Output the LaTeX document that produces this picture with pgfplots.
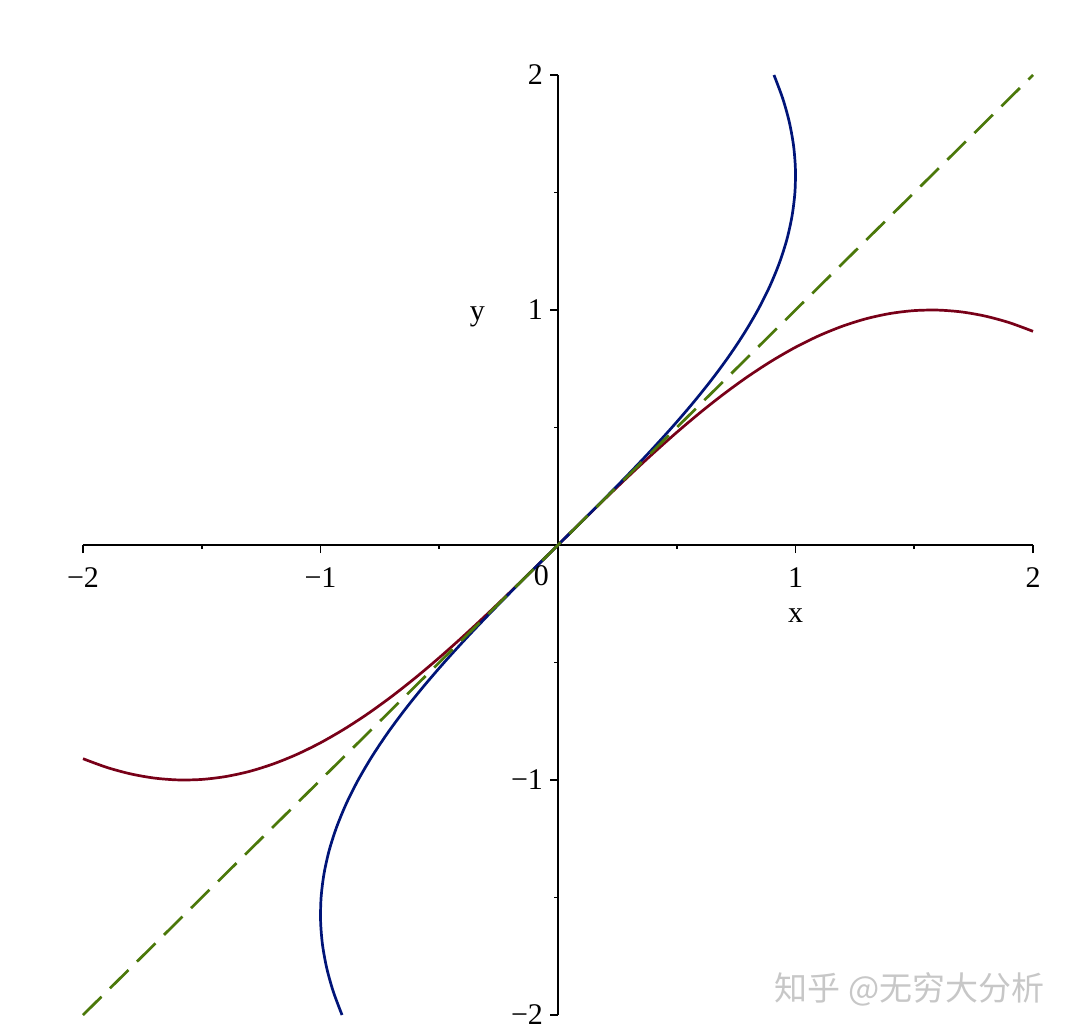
\documentclass[border=0pt]{standalone}
\usepackage{pgfplots}
\pgfplotsset{compat=1.18}
\usepackage{fontspec}
\setmainfont{Liberation Serif}
\newfontfamily\cjk{Noto Sans CJK SC}
\definecolor{mred}{RGB}{120,0,24}
\definecolor{mblue}{RGB}{0,20,120}
\definecolor{mgreen}{RGB}{75,120,10}
\begin{document}
\begin{tikzpicture}
\useasboundingbox (-41.5pt,-10pt) rectangle (495.5pt,507.5pt);
\begin{axis}[
  at={(0,0)}, anchor=south west,
  scale only axis, width=475pt, height=470pt,
  xmin=-2, xmax=2, ymin=-2, ymax=2,
  axis lines=middle,
  axis line style={-, line width=1pt, black},
  tick align=outside,
  major tick length=4pt, minor tick length=2pt,
  tick style={line width=0.9pt, black},
  xtick={-2,-1,1,2}, xticklabels={−2,−1,1,2},
  ytick={-2,-1,1,2}, yticklabels={−2,−1,1,2},
  minor xtick={-1.5,-0.5,0.5,1.5},
  minor ytick={-1.5,-0.5,0.5,1.5},
  every tick label/.append style={font=\fontsize{15}{17}\selectfont},
  xticklabel style={yshift=-4pt},
  clip=false,
]
\addplot[mred, line width=1.35pt, smooth] coordinates {
(-2.0,-0.9093) (-1.9,-0.9463) (-1.8,-0.9738) (-1.7,-0.9917) (-1.6,-0.9996)
(-1.5,-0.9975) (-1.4,-0.9854) (-1.3,-0.9636) (-1.2,-0.9320) (-1.1,-0.8912)
(-1.0,-0.8415) (-0.9,-0.7833) (-0.8,-0.7174) (-0.7,-0.6442) (-0.6,-0.5646)
(-0.5,-0.4794) (-0.4,-0.3894) (-0.3,-0.2955) (-0.2,-0.1987) (-0.1,-0.0998)
(0,0)
(0.1,0.0998) (0.2,0.1987) (0.3,0.2955) (0.4,0.3894) (0.5,0.4794)
(0.6,0.5646) (0.7,0.6442) (0.8,0.7174) (0.9,0.7833) (1.0,0.8415)
(1.1,0.8912) (1.2,0.9320) (1.3,0.9636) (1.4,0.9854) (1.5,0.9975)
(1.6,0.9996) (1.7,0.9917) (1.8,0.9738) (1.9,0.9463) (2.0,0.9093)
};
\addplot[mblue, line width=1.35pt, smooth] coordinates {
(-0.9093,-2.0) (-0.9463,-1.9) (-0.9738,-1.8) (-0.9917,-1.7) (-0.9996,-1.6)
(-0.9975,-1.5) (-0.9854,-1.4) (-0.9636,-1.3) (-0.9320,-1.2) (-0.8912,-1.1)
(-0.8415,-1.0) (-0.7833,-0.9) (-0.7174,-0.8) (-0.6442,-0.7) (-0.5646,-0.6)
(-0.4794,-0.5) (-0.3894,-0.4) (-0.2955,-0.3) (-0.1987,-0.2) (-0.0998,-0.1)
(0,0)
(0.0998,0.1) (0.1987,0.2) (0.2955,0.3) (0.3894,0.4) (0.4794,0.5)
(0.5646,0.6) (0.6442,0.7) (0.7174,0.8) (0.7833,0.9) (0.8415,1.0)
(0.8912,1.1) (0.9320,1.2) (0.9636,1.3) (0.9854,1.4) (0.9975,1.5)
(0.9996,1.6) (0.9917,1.7) (0.9738,1.8) (0.9463,1.9) (0.9093,2.0)
};
\addplot[mgreen, line width=1.35pt, dash pattern=on 13pt off 6pt] coordinates {
(-2,-2) (2,2)
};
\node[font=\fontsize{15}{17}\selectfont] at (axis cs:-0.07,-0.13) {0};
\node[font=\fontsize{15}{17}\selectfont] at (axis cs:-0.34,0.97) {y};
\node[font=\fontsize{15}{17}\selectfont] at (axis cs:1.0,-0.30) {x};
\node[font=\cjk\fontsize{16.5}{18}\selectfont, text=black!22, anchor=east, inner sep=0pt] at (axis cs:2.05,-1.89) {知乎 @无穷大分析};
\end{axis}
\end{tikzpicture}
\end{document}
